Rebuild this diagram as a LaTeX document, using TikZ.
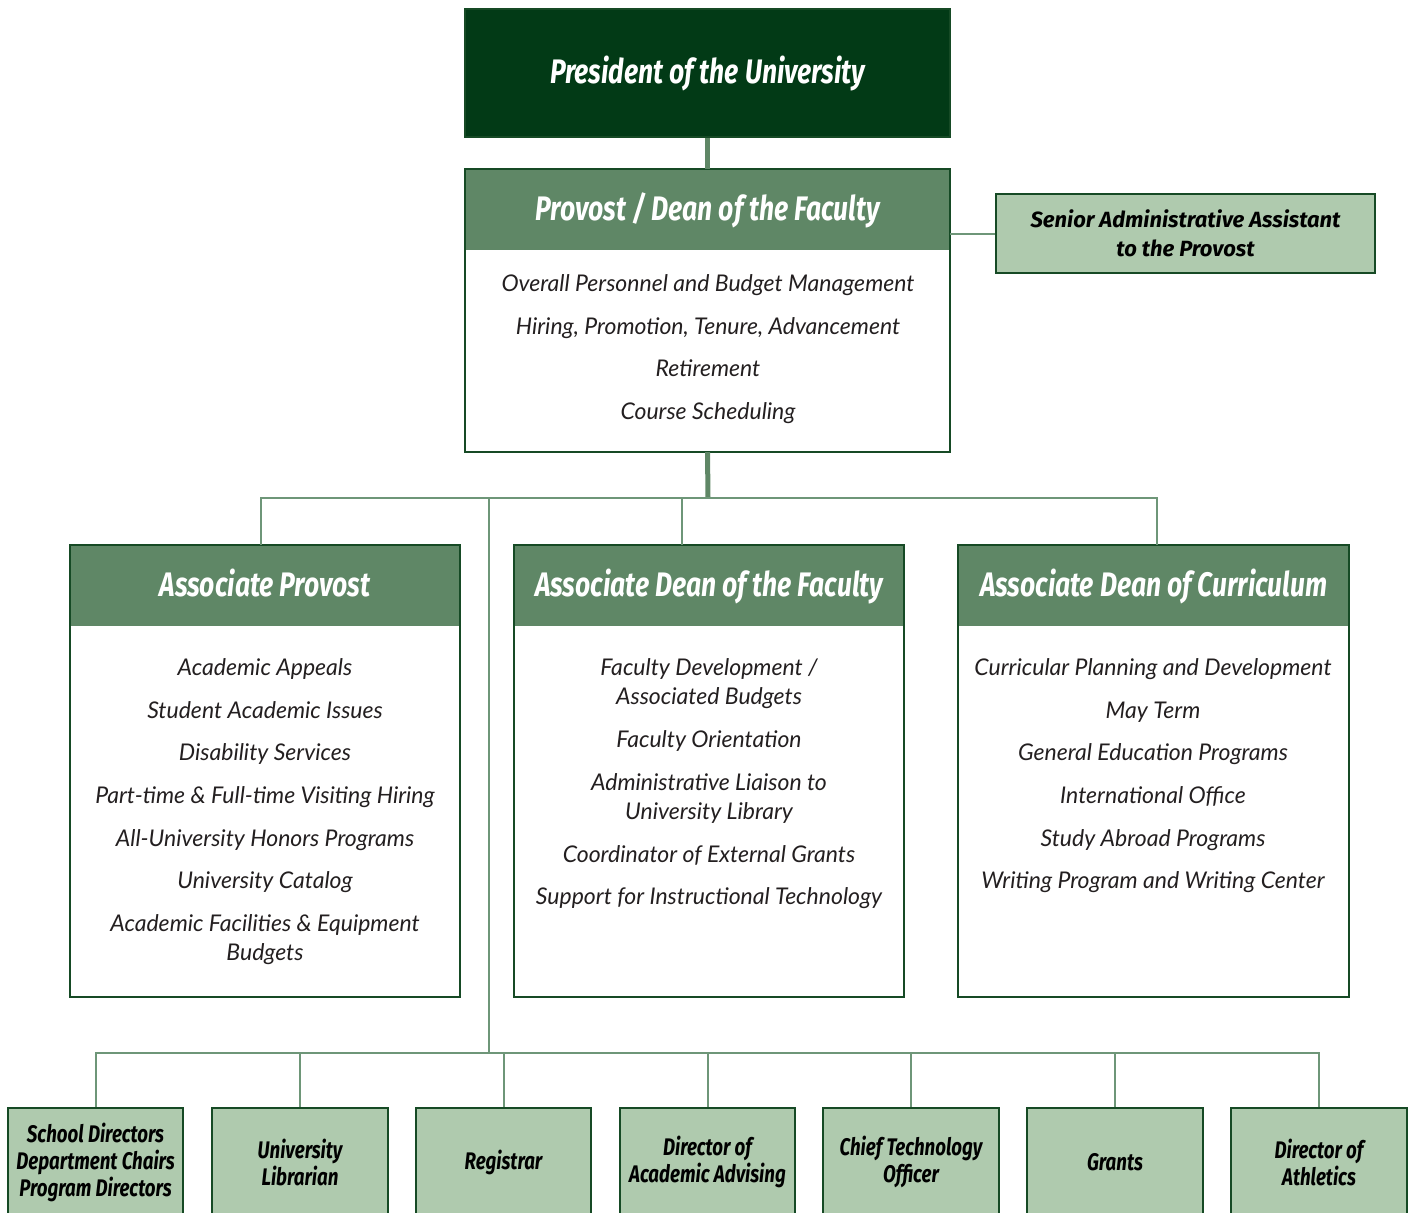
\documentclass[tikz,border=0pt]{standalone}
\usepackage{fontspec}
\setmainfont{Lato}
\newfontfamily\titlefont{Fira Sans}[FakeStretch=0.78]
\newfontfamily\widefont{Fira Sans}
\newfontfamily\bodyfont{Lato}
\definecolor{dkgreen}{HTML}{023A16}
\definecolor{bordergreen}{HTML}{164A25}
\definecolor{midgreen}{HTML}{5F8766}
\definecolor{ltgreen}{HTML}{AFCAAE}
\definecolor{linegreen}{HTML}{6E9678}
\definecolor{txtgray}{HTML}{231F20}
\tikzset{
  boxbase/.style={draw=bordergreen, line width=2pt, inner sep=0pt},
  outline/.style={draw=bordergreen, line width=2pt},
  prescell/.style={boxbase, fill=dkgreen, minimum width=485pt, minimum height=128pt,
    text=white, text height=28pt, text depth=6pt,
    font=\titlefont\bfseries\itshape\fontsize{34}{38}\selectfont},
  headcell/.style={fill=midgreen, minimum height=80pt, inner sep=0pt,
    text=white, text height=22pt, text depth=1pt,
    font=\titlefont\bfseries\itshape\fontsize{34}{38}\selectfont},
  bodycell/.style={fill=white, inner sep=0pt},
  lightcell/.style={boxbase, fill=ltgreen, text=black, align=center,
    font=\titlefont\bfseries\itshape\fontsize{24}{27}\selectfont},
  item/.style={anchor=base, inner sep=0pt, text=txtgray,
    font=\bodyfont\itshape\fontsize{23}{27}\selectfont},
  thinconn/.style={draw=linegreen, line width=2pt},
  thickconn/.style={draw=midgreen, line width=5pt},
}
\begin{document}
\begin{tikzpicture}[x=1pt,y=-1pt]
\useasboundingbox (0,0) rectangle (1412,1212);
\clip (0,0) rectangle (1412,1212);

% President
\node[prescell] (pres) at (707.5,73) {President of the University};

% Provost
\node[headcell, minimum width=485pt] (provh) at (707.5,209.5) {Provost / Dean of the Faculty};
\node[bodycell, minimum width=485pt, minimum height=202pt, anchor=north] (provb) at (provh.south) {};
\draw[outline] (provh.north west) rectangle (provb.south east);
\node[item] (p1) at (708,291) {Overall Personnel and Budget Management};
\node[item] (p2) at (708,334) {Hiring, Promotion, Tenure, Advancement};
\node[item] (p3) at (708,376) {Retirement};
\node[item] (p4) at (708,419) {Course Scheduling};

% Senior assistant
\node[lightcell, minimum width=379pt, minimum height=79pt,
  font=\widefont\bfseries\itshape\fontsize{22}{29}\selectfont] (sen) at (1185.5,233.5)
  {Senior Administrative Assistant\\ to the Provost};

% Associate boxes
\node[headcell, minimum width=390pt] (aph) at (265,585.5) {Associate Provost};
\node[bodycell, minimum width=390pt, minimum height=371pt, anchor=north] (apb) at (aph.south) {};
\draw[outline] (aph.north west) rectangle (apb.south east);
\node[headcell, minimum width=390pt] (adh) at (709,585.5) {Associate Dean of the Faculty};
\node[bodycell, minimum width=390pt, minimum height=371pt, anchor=north] (adb) at (adh.south) {};
\draw[outline] (adh.north west) rectangle (adb.south east);
\node[headcell, minimum width=390pt] (ach) at (1153.5,585.5) {Associate Dean of Curriculum};
\node[bodycell, minimum width=390pt, minimum height=371pt, anchor=north] (acb) at (ach.south) {};
\draw[outline] (ach.north west) rectangle (acb.south east);

% Associate Provost items
\node[item] (a1) at (265,675) {Academic Appeals};
\node[item] (a2) at (265,718) {Student Academic Issues};
\node[item] (a3) at (265,760) {Disability Services};
\node[item] (a4) at (265,803) {Part-time \& Full-time Visiting Hiring};
\node[item] (a5) at (265,846) {All-University Honors Programs};
\node[item] (a6) at (265,888) {University Catalog};
\node[item] (a7) at (265,931) {Academic Facilities \& Equipment};
\node[item] (a8) at (265,960) {Budgets};

% Associate Dean of the Faculty items
\node[item] (d1) at (709,675) {Faculty Development /};
\node[item] (d2) at (709,704) {Associated Budgets};
\node[item] (d3) at (709,747) {Faculty Orientation};
\node[item] (d4) at (709,790) {Administrative Liaison to};
\node[item] (d5) at (709,819) {University Library};
\node[item] (d6) at (709,862) {Coordinator of External Grants};
\node[item] (d7) at (709,904) {Support for Instructional Technology};

% Associate Dean of Curriculum items
\node[item] (c1) at (1153,675) {Curricular Planning and Development};
\node[item] (c2) at (1153,718) {May Term};
\node[item] (c3) at (1153,760) {General Education Programs};
\node[item] (c4) at (1153,803) {International Office};
\node[item] (c5) at (1153,846) {Study Abroad Programs};
\node[item] (c6) at (1153,888) {Writing Program and Writing Center};

% Bottom boxes
\node[lightcell, minimum width=175pt, minimum height=108pt] (b1) at (95.5,1162)
  {School Directors\\ Department Chairs\\ Program Directors};
\node[lightcell, minimum width=176pt, minimum height=108pt] (b2) at (300,1162)
  {University\\ Librarian};
\node[lightcell, minimum width=175pt, minimum height=108pt] (b3) at (503.5,1162)
  {Registrar};
\node[lightcell, minimum width=175pt, minimum height=108pt] (b4) at (707.5,1162)
  {Director of\\ Academic Advising};
\node[lightcell, minimum width=176pt, minimum height=108pt] (b5) at (911,1162)
  {Chief Technology\\ Officer};
\node[lightcell, minimum width=176pt, minimum height=108pt] (b6) at (1115,1162)
  {Grants};
\node[lightcell, minimum width=176pt, minimum height=108pt] (b7) at (1319,1162)
  {Director of\\ Athletics};

% Connectors
\coordinate (hub) at (708,498);
\coordinate (lowhub) at (489,1053);
\draw[thickconn] (pres.south) -- (provh.north);
\draw[thinconn] (sen.west) -- (sen.west -| provb.east);
\draw[thickconn] (provb.south) -- (hub);
\draw[thinconn] (aph.north -| 261,0) |- (hub) -| (ach.north -| 1157,0);
\draw[thinconn] (adh.north -| 682,0) -- (hub -| 682,0);
\draw[thinconn] (hub -| lowhub) -- (lowhub);
\draw[thinconn] (b1.north) |- (lowhub) -| (b7.north);
\foreach \b in {b2,b3,b4,b5,b6}{
  \draw[thinconn] (\b.north) -- (\b.north |- lowhub);
}
\end{tikzpicture}
\end{document}
